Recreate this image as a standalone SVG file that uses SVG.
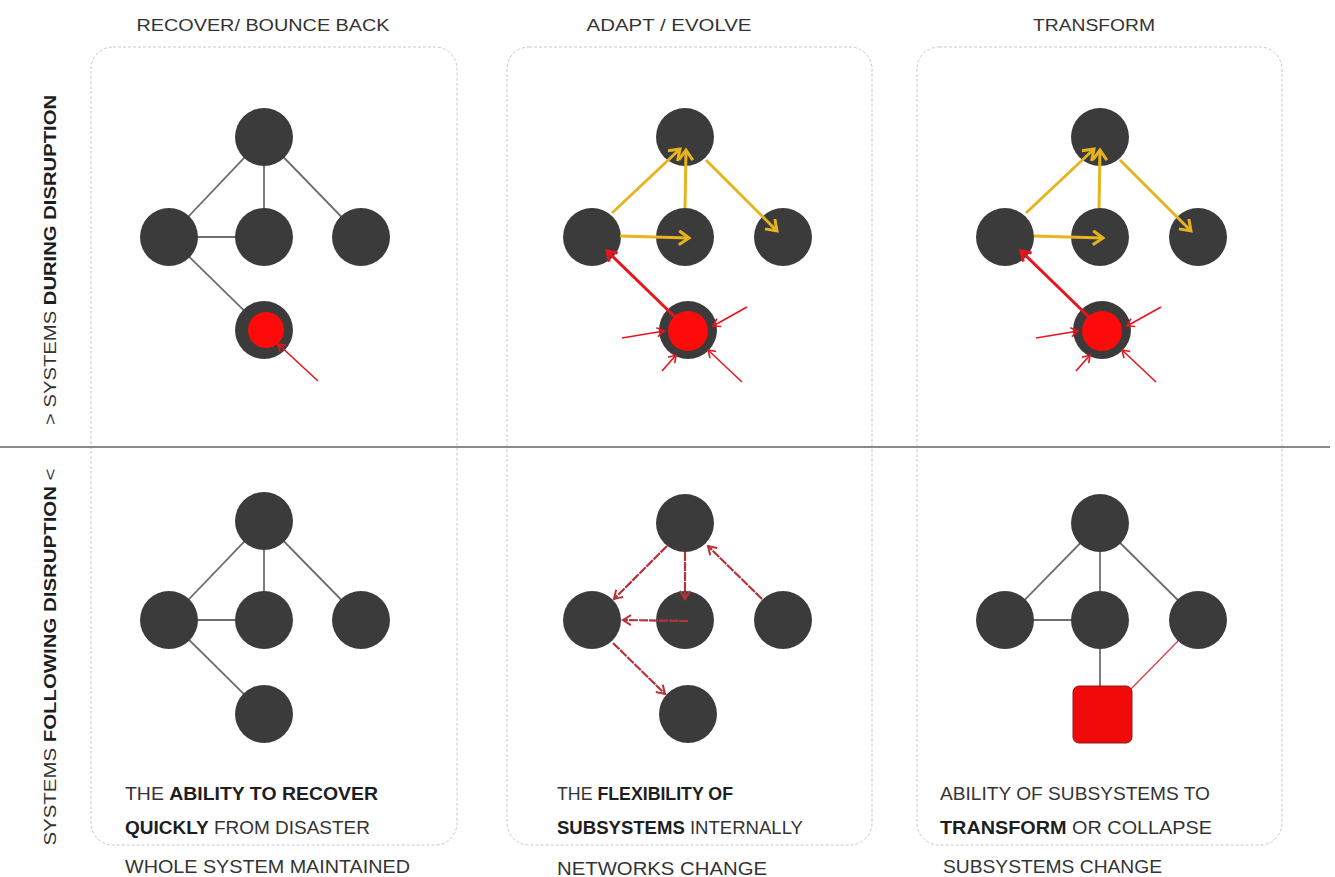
<svg xmlns="http://www.w3.org/2000/svg" width="1335" height="877" viewBox="0 0 1335 877">
<style>
.panel{fill:none;stroke:#c8c8c8;stroke-width:1;stroke-dasharray:3 2}
.node{fill:#3b3b3b}
.gl{stroke:#6e6e6e;stroke-width:1.8;fill:none}
.ya{stroke:#e6b41e;stroke-width:3;fill:none;marker-end:url(#my)}
.rt{stroke:#e8141e;stroke-width:3;fill:none;marker-end:url(#mrt)}
.rn{stroke:#e8141e;stroke-width:1.6;fill:none;marker-end:url(#mrn)}
.dr{stroke:#b8323a;stroke-width:2.2;stroke-dasharray:9 1;fill:none;marker-end:url(#mdr)}
.t{font-family:"Liberation Sans",Arial,sans-serif;fill:#333}
.h{font-size:16px}
.b{font-size:18px}
.bold{font-weight:bold;fill:#1e1e1e}
</style>
<defs>
<marker id="my" markerUnits="userSpaceOnUse" markerWidth="22" markerHeight="22" refX="12" refY="8" orient="auto"><path d="M2,1 L12,8 L2,15" fill="none" stroke="#e6b41e" stroke-width="3"/></marker>
<marker id="mrt" markerUnits="userSpaceOnUse" markerWidth="20" markerHeight="20" refX="11" refY="7" orient="auto"><path d="M2,1 L11,7 L2,13" fill="none" stroke="#e8141e" stroke-width="3"/></marker>
<marker id="mrn" markerUnits="userSpaceOnUse" markerWidth="16" markerHeight="16" refX="9" refY="6" orient="auto"><path d="M2,1.5 L9,6 L2,10.5" fill="none" stroke="#e8141e" stroke-width="1.6"/></marker>
<marker id="mdr" markerUnits="userSpaceOnUse" markerWidth="18" markerHeight="18" refX="10" refY="6" orient="auto"><path d="M2,1 L10,6 L2,11" fill="none" stroke="#b8323a" stroke-width="2"/></marker>
</defs>
<rect width="1335" height="877" fill="#fff"/>

<g id="frame">
<rect class="panel" x="91" y="47" width="366" height="798" rx="22"/>
<rect class="panel" x="507" y="47" width="365" height="798" rx="22"/>
<rect class="panel" x="917" y="47" width="365" height="798" rx="22"/>
<line x1="0" y1="447" x2="1330" y2="447" stroke="#8a8a8a" stroke-width="2"/>
</g>

<g id="labels">
<text class="t h" x="263" y="31" text-anchor="middle" textLength="253" lengthAdjust="spacingAndGlyphs">RECOVER/ BOUNCE BACK</text>
<text class="t h" x="669" y="31" text-anchor="middle" textLength="165" lengthAdjust="spacingAndGlyphs">ADAPT / EVOLVE</text>
<text class="t h" x="1094" y="31" text-anchor="middle" textLength="122" lengthAdjust="spacingAndGlyphs">TRANSFORM</text>
<text class="t h" transform="translate(56,260) rotate(-90)" text-anchor="middle" textLength="330" lengthAdjust="spacingAndGlyphs">&gt; SYSTEMS <tspan class="bold">DURING DISRUPTION</tspan></text>
<text class="t h" transform="translate(56,657) rotate(-90)" text-anchor="middle" textLength="377" lengthAdjust="spacingAndGlyphs">SYSTEMS <tspan class="bold">FOLLOWING DISRUPTION</tspan> &lt;</text>
<text class="t b" x="125" y="800" textLength="253" lengthAdjust="spacingAndGlyphs">THE <tspan class="bold">ABILITY TO RECOVER</tspan></text>
<text class="t b" x="125" y="834" textLength="245" lengthAdjust="spacingAndGlyphs"><tspan class="bold">QUICKLY</tspan> FROM DISASTER</text>
<text class="t b" x="125" y="873" textLength="285" lengthAdjust="spacingAndGlyphs">WHOLE SYSTEM MAINTAINED</text>
<text class="t b" x="557" y="800" textLength="176" lengthAdjust="spacingAndGlyphs">THE <tspan class="bold">FLEXIBILITY OF</tspan></text>
<text class="t b" x="557" y="834" textLength="246" lengthAdjust="spacingAndGlyphs"><tspan class="bold">SUBSYSTEMS</tspan> INTERNALLY</text>
<text class="t b" x="557" y="875" textLength="210" lengthAdjust="spacingAndGlyphs">NETWORKS CHANGE</text>
<text class="t b" x="940" y="800" textLength="270" lengthAdjust="spacingAndGlyphs">ABILITY OF SUBSYSTEMS TO</text>
<text class="t b" x="940" y="834" textLength="272" lengthAdjust="spacingAndGlyphs"><tspan class="bold">TRANSFORM</tspan> OR COLLAPSE</text>
<text class="t b" x="943" y="873" textLength="219" lengthAdjust="spacingAndGlyphs">SUBSYSTEMS CHANGE</text>
</g>

<g id="connectors">
<line class="gl" x1="264" y1="137" x2="169" y2="237"/>
<line class="gl" x1="264" y1="137" x2="264" y2="237"/>
<line class="gl" x1="264" y1="137" x2="361" y2="237"/>
<line class="gl" x1="169" y1="237" x2="264" y2="237"/>
<line class="gl" x1="169" y1="237" x2="264" y2="330"/>
<line class="gl" x1="264" y1="521" x2="169" y2="620"/>
<line class="gl" x1="264" y1="521" x2="264" y2="620"/>
<line class="gl" x1="264" y1="521" x2="361" y2="620"/>
<line class="gl" x1="169" y1="620" x2="264" y2="620"/>
<line class="gl" x1="169" y1="620" x2="264" y2="714"/>
<line class="gl" x1="1100" y1="523" x2="1005" y2="620"/>
<line class="gl" x1="1100" y1="523" x2="1100" y2="620"/>
<line class="gl" x1="1100" y1="523" x2="1198" y2="620"/>
<line class="gl" x1="1005" y1="620" x2="1100" y2="620"/>
<line class="gl" x1="1100" y1="620" x2="1100" y2="688"/>
<line x1="1178" y1="641" x2="1130" y2="690" stroke="#d84048" stroke-width="1.3"/>
</g>

<g id="nodes">
<g id="c1-top"><circle class="node" cx="264" cy="137" r="29"/><circle class="node" cx="169" cy="237" r="29"/><circle class="node" cx="264" cy="237" r="29"/><circle class="node" cx="361" cy="237" r="29"/><circle class="node" cx="264" cy="330" r="29"/><circle cx="266" cy="330" r="18" fill="#ff0a0a"/></g>
<g id="c2-top"><circle class="node" cx="685" cy="137" r="29"/><circle class="node" cx="592" cy="237" r="29"/><circle class="node" cx="685" cy="237" r="29"/><circle class="node" cx="783" cy="237" r="29"/><circle class="node" cx="688" cy="330" r="29"/><circle cx="688" cy="331" r="20" fill="#ff0a0a"/></g>
<g id="c3-top"><circle class="node" cx="1100" cy="137" r="29"/><circle class="node" cx="1005" cy="237" r="29"/><circle class="node" cx="1100" cy="237" r="29"/><circle class="node" cx="1198" cy="237" r="29"/><circle class="node" cx="1102" cy="330" r="29"/><circle cx="1102" cy="331" r="20" fill="#ff0a0a"/></g>
<g id="c1-bot"><circle class="node" cx="264" cy="521" r="29"/><circle class="node" cx="169" cy="620" r="29"/><circle class="node" cx="264" cy="620" r="29"/><circle class="node" cx="361" cy="620" r="29"/><circle class="node" cx="264" cy="714" r="29"/></g>
<g id="c2-bot"><circle class="node" cx="685" cy="523" r="29"/><circle class="node" cx="592" cy="620" r="29"/><circle class="node" cx="685" cy="620" r="29"/><circle class="node" cx="783" cy="620" r="29"/><circle class="node" cx="688" cy="714" r="29"/></g>
<g id="c3-bot"><circle class="node" cx="1100" cy="523" r="29"/><circle class="node" cx="1005" cy="620" r="29"/><circle class="node" cx="1100" cy="620" r="29"/><circle class="node" cx="1198" cy="620" r="29"/><rect x="1073" y="686" width="59" height="57" rx="6" fill="#f00a0a" stroke="#8a1a1a" stroke-width="1"/></g>
</g>

<g id="arrows">
<line class="rn" x1="318" y1="381" x2="278" y2="344"/>
<line class="ya" x1="612" y1="213" x2="680" y2="149"/>
<line class="ya" x1="685" y1="208" x2="686" y2="150"/>
<line class="ya" x1="706" y1="160" x2="777" y2="231"/>
<line class="ya" x1="620" y1="236" x2="689" y2="238"/>
<line class="rt" x1="676" y1="318" x2="607" y2="251"/>
<line class="rn" x1="622" y1="338" x2="664" y2="331"/>
<line class="rn" x1="747" y1="307" x2="713" y2="326"/>
<line class="rn" x1="742" y1="382" x2="708" y2="350"/>
<line class="rn" x1="662" y1="371" x2="676" y2="355"/>
<line class="ya" x1="1026" y1="213" x2="1094" y2="149"/>
<line class="ya" x1="1099" y1="208" x2="1100" y2="150"/>
<line class="ya" x1="1120" y1="160" x2="1191" y2="231"/>
<line class="ya" x1="1034" y1="236" x2="1103" y2="238"/>
<line class="rt" x1="1090" y1="318" x2="1021" y2="251"/>
<line class="rn" x1="1036" y1="338" x2="1078" y2="331"/>
<line class="rn" x1="1161" y1="307" x2="1127" y2="326"/>
<line class="rn" x1="1156" y1="382" x2="1122" y2="350"/>
<line class="rn" x1="1076" y1="371" x2="1090" y2="355"/>
<line class="dr" x1="667" y1="546" x2="614" y2="599"/>
<line class="dr" x1="685" y1="552" x2="685" y2="599"/>
<line class="dr" x1="762" y1="599" x2="708" y2="546"/>
<line class="dr" x1="688" y1="621" x2="623" y2="620"/>
<line class="dr" x1="613" y1="643" x2="665" y2="694"/>
</g>
</svg>
